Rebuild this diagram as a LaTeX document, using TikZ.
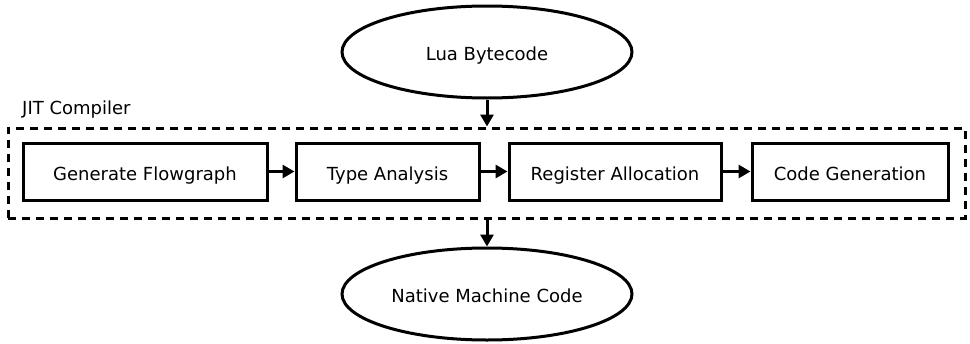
\documentclass[tikz,border=0pt]{standalone}
\usepackage{fontspec}
\setmainfont{DejaVu Sans}
\usetikzlibrary{arrows.meta,shapes.geometric}
\begin{document}
\begin{tikzpicture}[x=1pt,y=-1pt,
  every node/.style={font=\fontsize{18}{21}\selectfont},
  stage/.style={draw,line width=3pt,rectangle,minimum height=57pt,inner sep=0pt,
    text height=17pt,text depth=0pt},
  term/.style={draw,line width=3pt,ellipse,minimum width=290pt,minimum height=92pt,inner sep=0pt,
    text height=17pt,text depth=0pt},
  flow/.style={line width=3pt,-{Triangle[length=12pt,width=13pt]}},
  group/.style={draw,line width=3pt,dash pattern=on 8pt off 6pt}]
\useasboundingbox (0,0) rectangle (970,343);
% input and output
\node[term] (lua) at (487,52) {Lua Bytecode};
\node[term] (native) at (487,294) {Native Machine Code};
% compiler stages
\node[stage,minimum width=244pt] (flowgraph) at (145,171.5) {Generate Flowgraph};
\node[stage,minimum width=183pt] (types) at (387.5,171.5) {Type Analysis};
\node[stage,minimum width=212pt] (regs) at (615,171.5) {Register Allocation};
\node[stage,minimum width=196pt] (codegen) at (850,171.5) {Code Generation};
% enclosing group
\node[group,minimum width=957pt,minimum height=90pt,inner sep=0pt] (jit) at (486.5,173) {};
\node[anchor=base west,inner sep=0pt] (jitlabel) at (22,114) {JIT Compiler};
% connectors
\draw[flow] (lua) -- (lua.south |- jit.north);
\draw[flow] (lua.south |- jit.south) -- (native);
\draw[flow] (flowgraph) -- (types);
\draw[flow] (types) -- (regs);
\draw[flow] (regs) -- (codegen);
\end{tikzpicture}
\end{document}
